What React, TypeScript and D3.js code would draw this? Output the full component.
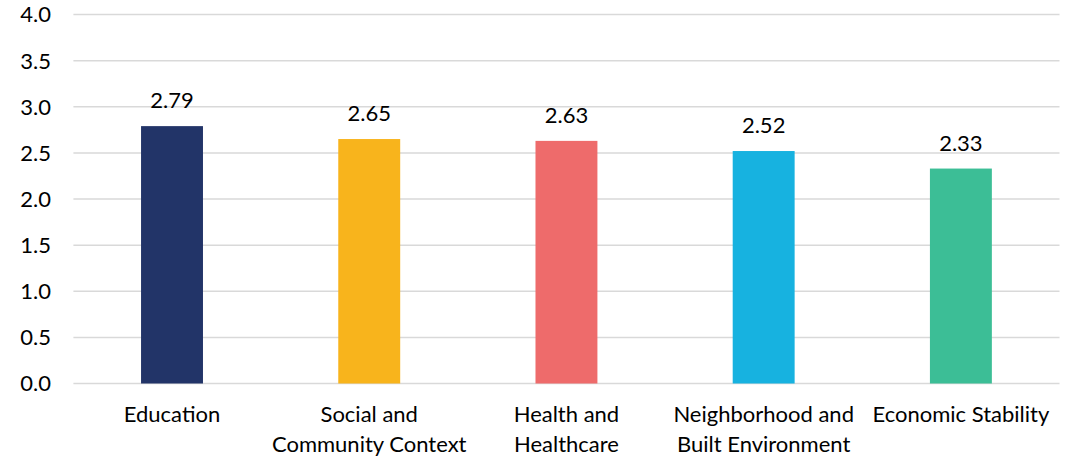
import React from "react";
import * as d3 from "d3";

const categories = [
  ["Education"],
  ["Social and", "Community Context"],
  ["Health and", "Healthcare"],
  ["Neighborhood and", "Built Environment"],
  ["Economic Stability"],
];
const values = [2.79, 2.65, 2.63, 2.52, 2.33];
const colors = ["#223468", "#F8B41C", "#EE6B6B", "#17B2E0", "#3CBE96"];
const yTicks = [0, 0.5, 1, 1.5, 2, 2.5, 3, 3.5, 4];

const W = 1074;
const H = 457;
const left = 73.4;
const right = 1059.5;
const top = 14.5;
const bottom = 383.5;
const FONT = "Lato, 'Noto Sans', sans-serif";
const FS = 22;

export default function App() {
  const x = d3
    .scaleBand<number>()
    .domain(d3.range(values.length))
    .range([left, right])
    .paddingInner(0.686)
    .paddingOuter(0.343);
  const y = d3.scaleLinear().domain([0, 4]).range([bottom, top]);

  return (
    <svg
      width={W}
      height={H}
      style={{ position: "absolute", left: 0, top: 0, background: "#fff" }}
      fontFamily={FONT}
    >
      {yTicks.map((t) => (
        <g key={t}>
          <line x1={left} x2={right} y1={y(t)} y2={y(t)} stroke="#d9d9d9" strokeWidth={1.5} />
          <text x={51} y={y(t)} dy="0.36em" textAnchor="end" fontSize={FS} fill="#000">
            {t.toFixed(1)}
          </text>
        </g>
      ))}
      {values.map((v, i) => {
        const bx = x(i)!;
        const cx = bx + x.bandwidth() / 2;
        return (
          <g key={i}>
            <rect x={bx} y={y(v)} width={x.bandwidth()} height={y(0) - y(v)} fill={colors[i]} />
            <text x={cx} y={y(v) - 18} textAnchor="middle" fontSize={FS} fill="#000">
              {v.toFixed(2)}
            </text>
            {categories[i].map((line, j) => (
              <text key={j} x={cx} y={422 + j * 29.5} textAnchor="middle" fontSize={FS} fill="#000">
                {line}
              </text>
            ))}
          </g>
        );
      })}
    </svg>
  );
}
